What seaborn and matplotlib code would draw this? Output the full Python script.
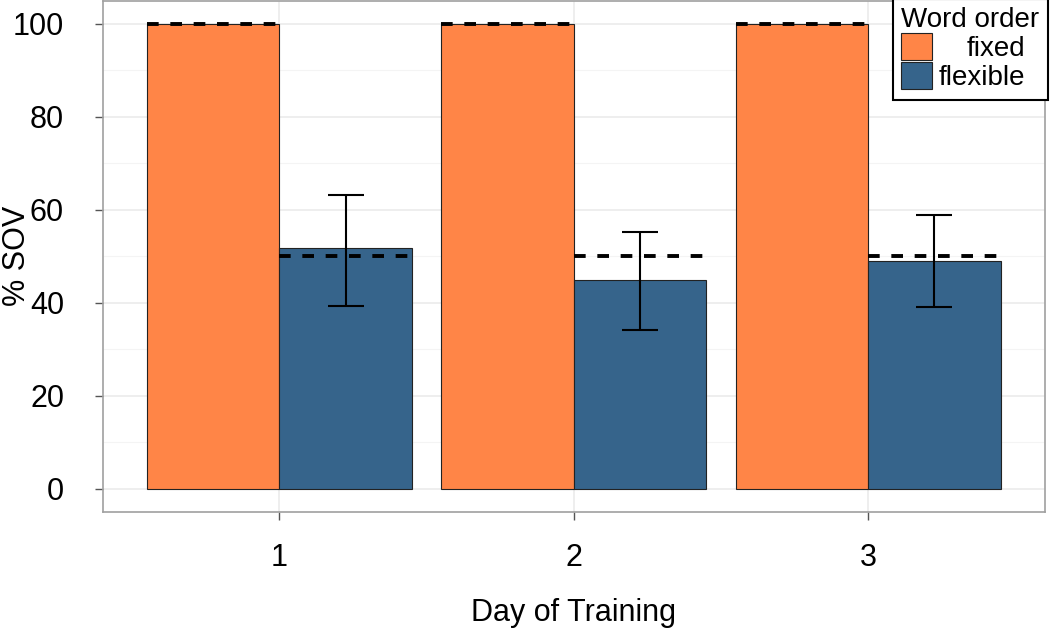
import pandas as pd
import seaborn as sns
import matplotlib.pyplot as plt
from matplotlib.ticker import MultipleLocator
from matplotlib.transforms import Affine2D

# dados
dias = ["1", "2", "3"]
ordem = ["fixed", "flexible"]
fixo = [100, 100, 100]
flexivel = [51.7, 44.9, 48.9]
flex_inf = [39.4, 34.2, 39.1]
flex_sup = [63.3, 55.3, 59.0]
esperado = {"fixed": 100, "flexible": 50}

cores = {"fixed": "#FF8547", "flexible": "#36648B"}

df = pd.DataFrame({
    "dia": dias * 2,
    "ordem": ["fixed"] * 3 + ["flexible"] * 3,
    "sov": fixo + flexivel,
})

sns.set_theme(style="white")
plt.rcParams["font.family"] = ["Liberation Sans", "DejaVu Sans"]
plt.rcParams["text.color"] = "black"
plt.rcParams["axes.labelcolor"] = "black"

fig = plt.figure(figsize=(10.5, 6.33), dpi=100)
ax = fig.add_axes([0.098, 0.191, 0.897, 0.808])

sns.barplot(data=df, x="dia", y="sov", hue="ordem", hue_order=ordem,
            palette=cores, width=0.9, saturation=1, edgecolor="#222222",
            linewidth=0.8, ax=ax, zorder=2)

# barras por grupo (patches na ordem hue -> dia)
barras = [p for p in ax.patches if p.get_height() > 0][:6]
barras_fixo = barras[:3]
barras_flex = barras[3:]

# linhas tracejadas dos valores esperados
for grupo, lista in [("fixed", barras_fixo), ("flexible", barras_flex)]:
    for b in lista:
        ax.hlines(esperado[grupo], b.get_x(), b.get_x() + b.get_width(),
                  colors="black", linestyles=(0, (3, 3)), linewidth=2.8, zorder=4)

# barras de erro
xs = [b.get_x() + b.get_width() / 2 for b in barras_flex]
yerr = [[v - lo for v, lo in zip(flexivel, flex_inf)],
        [hi - v for v, hi in zip(flexivel, flex_sup)]]
ax.errorbar(xs, flexivel, yerr=yerr, fmt="none", ecolor="black",
            elinewidth=1.5, capsize=13, capthick=1.5, zorder=5)

ax.set_xlim(-0.6, 2.6)
ax.set_ylim(-5, 105)
ax.yaxis.set_major_locator(MultipleLocator(20))
ax.yaxis.set_minor_locator(MultipleLocator(10))
ax.grid(True, which="major", color="#EBEBEB", linewidth=1.2, zorder=0)
ax.grid(True, which="minor", axis="y", color="#F4F4F4", linewidth=0.8, zorder=0)
ax.set_axisbelow(True)

for s in ax.spines.values():
    s.set_color("#A0A0A0")
    s.set_linewidth(1.2)

ax.tick_params(axis="both", which="major", direction="out", length=6,
               width=1, color="#555555", labelsize=22, labelcolor="black",
               bottom=True, left=True)
ax.tick_params(axis="y", pad=22)
ax.tick_params(axis="x", pad=16)
ax.tick_params(axis="both", which="minor", length=0)

ax.set_xlabel("Day of Training", fontsize=22)
ax.set_ylabel("% SOV", fontsize=22)
ax.xaxis.set_label_coords(0.5, -0.168)
ax.yaxis.set_label_coords(-0.075, 0.5)

leg = ax.legend(title="Word order", loc="upper right", bbox_to_anchor=(1.003, 1.003),
                fontsize=20, title_fontsize=20, frameon=True, fancybox=False,
                edgecolor="black", framealpha=1, labelspacing=0,
                handlelength=1.1, handleheight=1.12, handletextpad=0.25,
                borderpad=0.3, borderaxespad=0, alignment="left")
leg.get_frame().set_linewidth(1.5)
leg.set_zorder(10)

# alinhar os textos da legenda a direita, como no original
fig.canvas.draw()
rend = fig.canvas.get_renderer()
larguras = [t.get_window_extent(rend).width for t in leg.texts]
maior = max(larguras)
for t, w in zip(leg.texts, larguras):
    t.set_transform(t.get_transform() + Affine2D().translate(maior - w, 0))

plt.savefig("out.png", dpi=100)
